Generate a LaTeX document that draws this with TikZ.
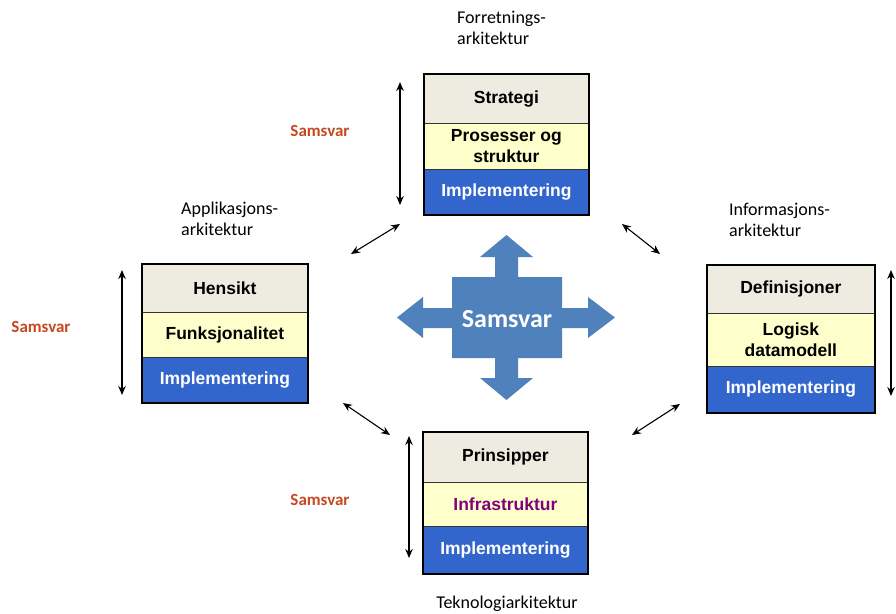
\documentclass[tikz,border=0pt]{standalone}
\usepackage{fontspec}
\setmainfont{Liberation Sans}
\newfontfamily\calfont{Carlito}
\usetikzlibrary{arrows.meta}
\definecolor{rowgrey}{RGB}{238,236,225}
\definecolor{rowyellow}{RGB}{255,255,204}
\definecolor{rowblue}{RGB}{51,102,204}
\definecolor{crossblue}{RGB}{79,129,189}
\definecolor{samred}{RGB}{197,72,30}
\definecolor{infrapurple}{RGB}{128,0,128}
\tikzset{
  row/.style={draw=black!80, line width=0.8pt, anchor=north west, inner sep=0pt,
    align=center, font=\fontsize{17.5}{21}\selectfont\bfseries},
  greyrow/.style={row, fill=rowgrey},
  yellowrow/.style={row, fill=rowyellow},
  bluerow/.style={row, fill=rowblue, text=white},
  outer/.style={draw=black, line width=2.6pt},
  dbl/.style={{Stealth[length=9pt,width=7.5pt]}-{Stealth[length=9pt,width=7.5pt]}, line width=1.1pt},
  samlbl/.style={font=\calfont\fontsize{17}{20}\selectfont\bfseries, text=samred},
  archlbl/.style={font=\calfont\fontsize{18}{21}\selectfont, align=left, inner sep=0pt}
}
\begin{document}
\begin{tikzpicture}[x=1pt,y=-1pt]
\useasboundingbox (0,0) rectangle (896,613);

% Top box: Forretningsarkitektur
\node[greyrow, minimum width=164pt, minimum height=49pt] (t1) at (424,74) {\raisebox{-2pt}{Strategi}};
\node[yellowrow, minimum width=164pt, minimum height=46pt] (t2) at (424,123) {Prosesser og\\struktur};
\node[bluerow, minimum width=164pt, minimum height=45pt] (t3) at (424,169) {\raisebox{-1pt}{Implementering}};
\draw[outer] (t1.north west) rectangle (t3.south east);

% Left box: Applikasjonsarkitektur
\node[greyrow, minimum width=165pt, minimum height=48pt] (l1) at (142,264) {\raisebox{-1pt}{Hensikt}};
\node[yellowrow, minimum width=165pt, minimum height=45pt] (l2) at (142,312) {Funksjonalitet};
\node[bluerow, minimum width=165pt, minimum height=45pt] (l3) at (142,357) {\raisebox{-1pt}{Implementering}};
\draw[outer] (l1.north west) rectangle (l3.south east);

% Right box: Informasjonsarkitektur
\node[greyrow, minimum width=167pt, minimum height=48pt] (r1) at (707,265) {\raisebox{-2pt}{Definisjoner}};
\node[yellowrow, minimum width=167pt, minimum height=53pt] (r2) at (707,313) {Logisk\\datamodell};
\node[bluerow, minimum width=167pt, minimum height=46pt] (r3) at (707,366) {\raisebox{-1pt}{Implementering}};
\draw[outer] (r1.north west) rectangle (r3.south east);

% Bottom box: Teknologiarkitektur
\node[greyrow, minimum width=164pt, minimum height=50pt] (b1) at (423,432) {\raisebox{-2pt}{Prinsipper}};
\node[yellowrow, minimum width=164pt, minimum height=44pt, text=infrapurple] (b2) at (423,482) {Infrastruktur};
\node[bluerow, minimum width=164pt, minimum height=47pt] (b3) at (423,526) {\raisebox{-1pt}{Implementering}};
\draw[outer] (b1.north west) rectangle (b3.south east);

% Architecture labels
\node[archlbl, anchor=west] (la) at (457,28) {Forretnings-\\arkitektur};
\node[archlbl, anchor=west] (lb) at (181,219) {Applikasjons-\\arkitektur};
\node[archlbl, anchor=west] (lc) at (729,220) {Informasjons-\\arkitektur};
\node[archlbl] (ld) at (507,604) {Teknologiarkitektur};

% Samsvar labels
\node[samlbl] (s1) at (320,131) {Samsvar};
\node[samlbl] (s2) at (41,327) {Samsvar};
\node[samlbl] (s3) at (320,500) {Samsvar};

% Vertical double arrows
\coordinate (vt1) at (400,82);  \coordinate (vt2) at (400,205);
\coordinate (vl1) at (122,270); \coordinate (vl2) at (122,395);
\coordinate (vr1) at (891,270); \coordinate (vr2) at (891,396);
\coordinate (vb1) at (409,436); \coordinate (vb2) at (409,558);
\draw[dbl] (vt1) -- (vt2);
\draw[dbl] (vl1) -- (vl2);
\draw[dbl] (vr1) -- (vr2);
\draw[dbl] (vb1) -- (vb2);

% Diagonal double arrows
\coordinate (dtl1) at (351,254); \coordinate (dtl2) at (400,224);
\coordinate (dtr1) at (622,224); \coordinate (dtr2) at (660,254);
\coordinate (dbl1) at (343,403); \coordinate (dbl2) at (390,435);
\coordinate (dbr1) at (632,435); \coordinate (dbr2) at (680,404);
\draw[dbl] (dtl1) -- (dtl2);
\draw[dbl] (dtr1) -- (dtr2);
\draw[dbl] (dbl1) -- (dbl2);
\draw[dbl] (dbr1) -- (dbr2);

% Central quad arrow
\fill[crossblue] (452,277) -- (495,277) -- (495,257) -- (480,257) -- (506.5,235) -- (533,257) -- (518,257) -- (518,277)
  -- (562,277) -- (562,308) -- (588,308) -- (588,297) -- (615,317.5) -- (588,338) -- (588,328) -- (562,328)
  -- (562,358) -- (518,358) -- (518,378) -- (533,378) -- (506.5,400) -- (480,378) -- (495,378) -- (495,358)
  -- (452,358) -- (452,328) -- (423,328) -- (423,338) -- (397,317.5) -- (423,297) -- (423,308) -- (452,308) -- cycle;
\node[font=\calfont\fontsize{26}{30}\selectfont\bfseries, text=white] (c) at (507,319) {Samsvar};
\end{tikzpicture}
\end{document}
